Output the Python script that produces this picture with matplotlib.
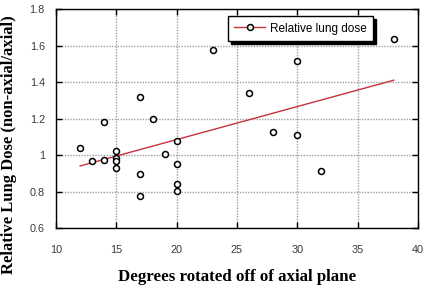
import matplotlib
matplotlib.use('Agg')
import matplotlib.pyplot as plt
from matplotlib.lines import Line2D

# degrees rotated vs relative lung dose
degrees = [12, 13, 14, 14, 15, 15, 15, 15, 17, 17, 17, 18, 19,
           20, 20, 20, 20, 23, 26, 28, 30, 30, 32, 38]
rel_dose = [1.04, 0.965, 0.97, 1.18, 1.02, 0.983, 0.968, 0.928, 1.32, 0.895, 0.775, 1.195, 1.005,
            1.077, 0.95, 0.843, 0.803, 1.574, 1.339, 1.126, 1.515, 1.108, 0.913, 1.633]

# trend line end points
trend_x = [12, 38]
trend_y = [0.94, 1.41]

x_ticks = [10, 15, 20, 25, 30, 35, 40]
y_ticks = [0.6, 0.8, 1.0, 1.2, 1.4, 1.6, 1.8]
y_ticklabels = ['0.6', '0.8', '1', '1.2', '1.4', '1.6', '1.8']

LINE_RED = '#c8323c'

fig = plt.figure(figsize=(4.29, 2.90), dpi=100)
ax = fig.add_axes([56/429, 1 - 228/290, 362/429, 219/290])

ax.plot(trend_x, trend_y, color=LINE_RED, lw=1.0, zorder=2)
ax.plot(degrees, rel_dose, 'o', ls='none', ms=4.3, mfc='white', mec='black', mew=1.1, zorder=3)

ax.set_xlim(10, 40); ax.set_ylim(0.6, 1.8)
ax.set_xticks(x_ticks)
ax.set_yticks(y_ticks)
ax.set_yticklabels(y_ticklabels)
ax.tick_params(direction='in', top=True, right=True, length=4, width=1,
               labelsize=7.8, labelcolor='#3a3a3a')
ax.tick_params(axis='x', pad=12)
ax.tick_params(axis='y', pad=8)
for lab in ax.get_xticklabels() + ax.get_yticklabels():
    lab.set_family(['Liberation Sans', 'DejaVu Sans'])

ax.grid(True, color='#a0a0a0', ls=(0, (1, 1)), lw=1.0)
ax.set_axisbelow(True)
for s in ax.spines.values():
    s.set_linewidth(1.0)

handle = Line2D([], [], color=LINE_RED, lw=1.0, marker='o', ms=4.3, mfc='white', mec='black', mew=1.1)
leg = ax.legend([handle], ['Relative lung dose'], loc='upper left', bbox_to_anchor=(0.475, 0.968),
                borderaxespad=0, fancybox=False, framealpha=1, edgecolor='black',
                shadow={'color': 'black', 'alpha': 1}, handlelength=2.6, handletextpad=0.4,
                prop={'family': 'Liberation Sans', 'size': 8.5}, borderpad=0.55)
leg.get_frame().set_linewidth(1.0)

fig.text(0.5 * (56 + 418) / 429, 1 - 277/290, 'Degrees rotated off of axial plane',
         ha='center', va='center', fontsize=12.2, fontweight='bold', family='Liberation Serif')
fig.text(9/429, 1 - 145/290, 'Relative Lung Dose (non-axial/axial)', rotation=90,
         ha='center', va='center', fontsize=12, fontweight='bold', family='Liberation Serif')

fig.savefig('out.png', dpi=100)
